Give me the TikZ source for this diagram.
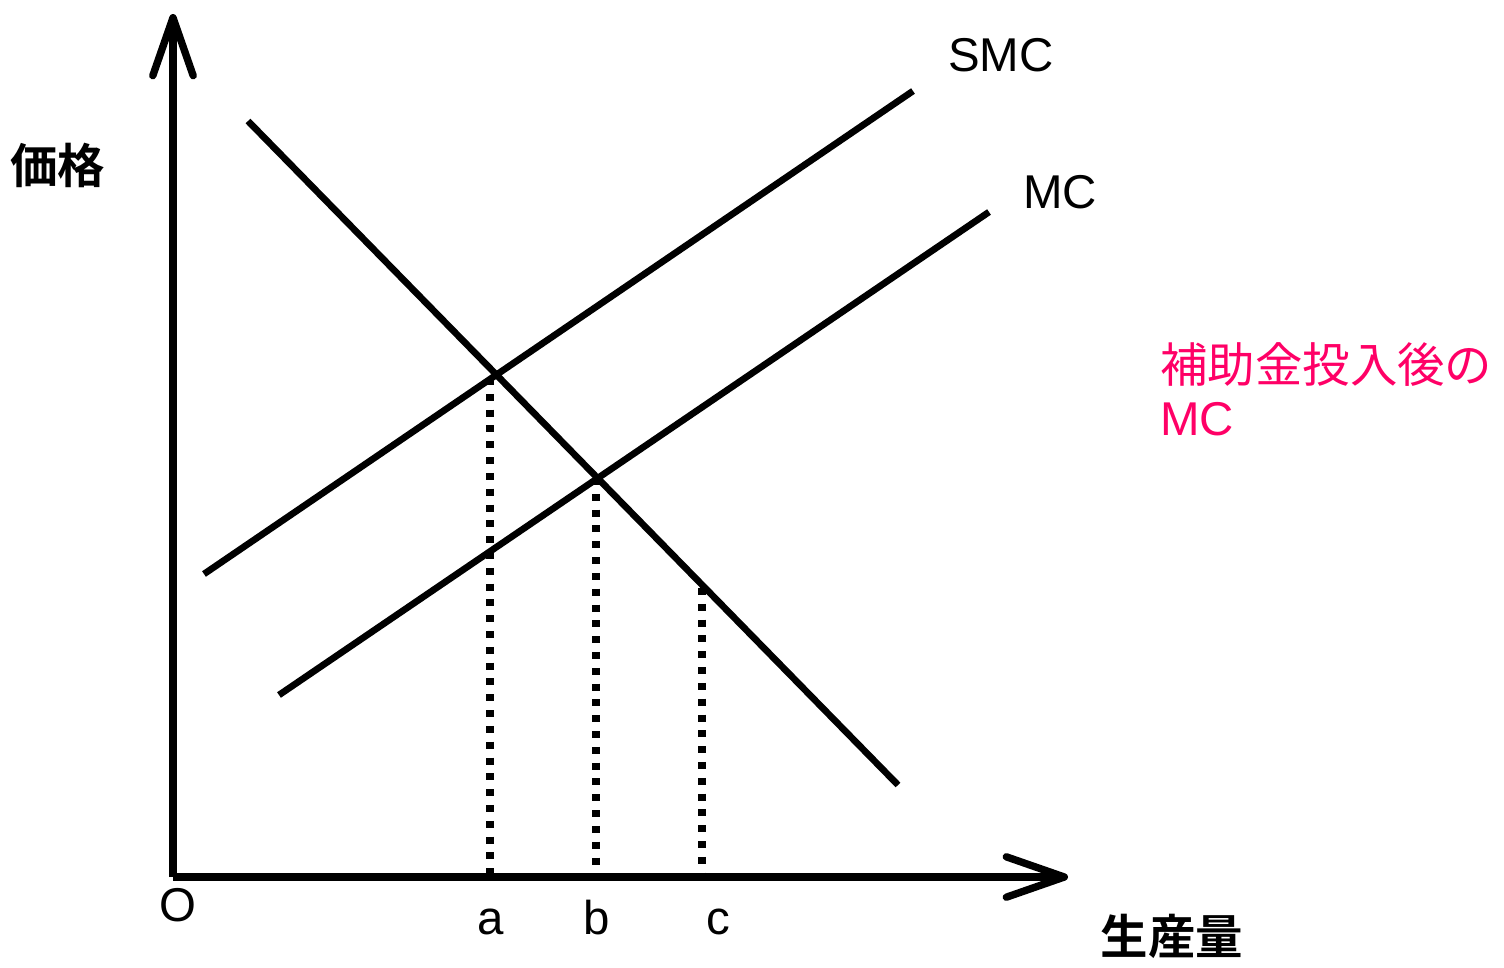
\documentclass[tikz,border=0pt]{standalone}
\usepackage{fontspec}
\setmainfont{Liberation Sans}
\newfontfamily\jpfont{Noto Sans CJK JP}
\newfontfamily\jpbold{Noto Sans CJK JP Bold}
\usepackage{xcolor}
\usetikzlibrary{arrows.meta, positioning}
\definecolor{subsidypink}{RGB}{255,0,102}

\begin{document}
\begin{tikzpicture}[x=0.02cm, y=-0.02cm,
    axis/.style={line width=4.2pt, -{Straight Barb[length=33pt, width=23pt, line cap=round, line join=round]}},
    curve/.style={line width=3.8pt},
    guide/.style={line width=4pt, dash pattern=on 4pt off 5pt},
    lbl/.style={font=\fontsize{27}{30}\selectfont, inner sep=0pt}]
            \useasboundingbox (0,0) rectangle (1504,967);
            % axes
            \coordinate (o) at (173,877);
            \coordinate (ytop) at (173,14);
            \coordinate (xend) at (1068,877);
            \draw[axis] (o) -- (ytop);
            \draw[axis] (o) -- (xend);
            % curves
            \coordinate (d1) at (248,121);
            \coordinate (d2) at (898,785);
            \coordinate (s1) at (204,574);
            \coordinate (s2) at (913,91);
            \coordinate (m1) at (279,695);
            \coordinate (m2) at (989,212);
            \draw[curve] (d1) -- (d2);
            \draw[curve] (s1) -- (s2);
            \draw[curve] (m1) -- (m2);
            % guides
            \coordinate (pa) at (490,378);
            \coordinate (pb) at (596,478);
            \coordinate (pc) at (702,588);
            \draw[guide] (pa) -- (pa |- o);
            \draw[guide] (pb) -- (pb |- o);
            \draw[guide] (pc) -- (pc |- o);
            % labels
            \node[lbl, anchor=base] (origin) at (178,921) {O};
            \node[lbl, anchor=base] (qa) at (491,934) {a};
            \node[lbl, anchor=base] (qb) at (597,934) {b};
            \node[lbl, anchor=base] (qc) at (718,934) {c};
            \node[lbl] (smc) at (1001,55) {SMC};
            \node[lbl] (mc) at (1060,192) {MC};
            \node[lbl] (price) at (58,165) {\jpbold 価格};
            \node[lbl] (output) at (1172,936) {\jpbold 生産量};
            \node[lbl, text=subsidypink, align=left, anchor=west] (newmc) at (1160,389) {{\jpfont 補助金投入後の}\\MC};
\end{tikzpicture}
\end{document}
